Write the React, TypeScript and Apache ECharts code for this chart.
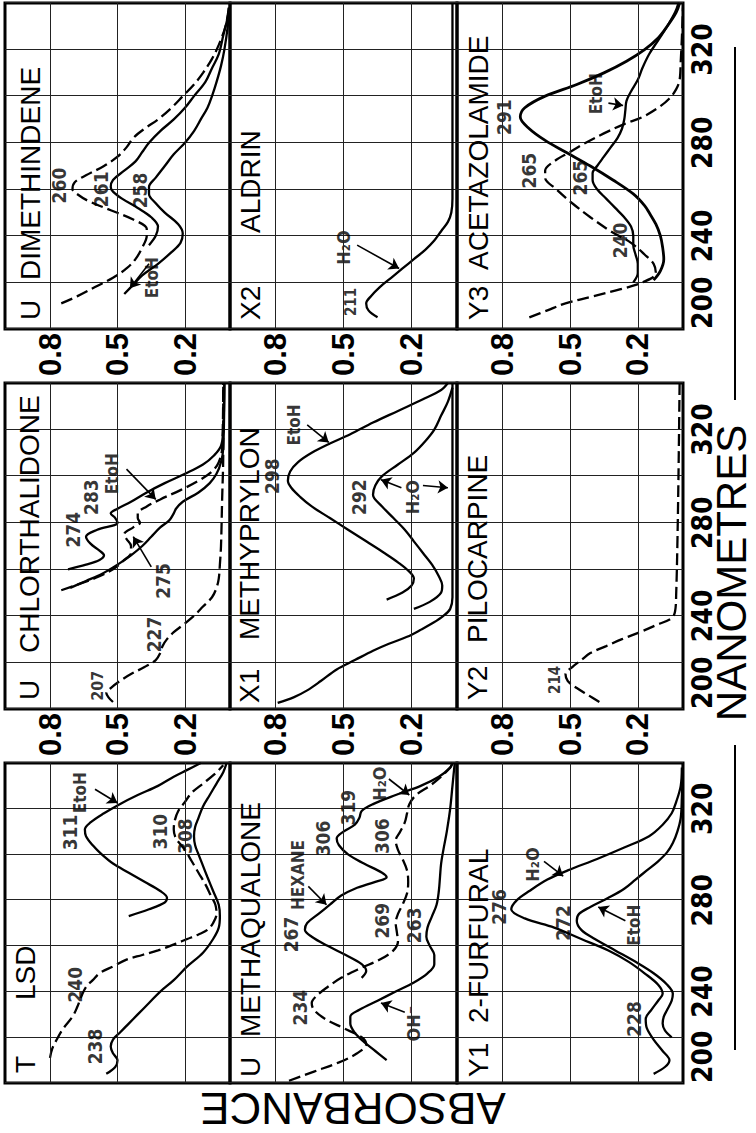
import React, { useEffect, useRef } from 'react';
import * as echarts from 'echarts';

type Pt = [number, number];

// ---- tick labels ----
const wavelengthTicks = [200, 240, 280, 320];
const absorbanceTicks = [0.2, 0.5, 0.8];

// ---- T  LSD ----
const lsdEtoh: Pt[] = [[273,0.45],[276,0.36],[279,0.29],[281,0.28],[284,0.31],[288,0.38],[292,0.45],[296,0.52],[300,0.57],[304,0.61],[308,0.64],[311,0.645],[314,0.62],[318,0.56],[322,0.49],[326,0.41],[330,0.32],[334,0.25],[337,0.19],[340,0.13]];
const lsdDashed: Pt[] = [[211,0.80],[215,0.79],[219,0.77],[224,0.74],[229,0.70],[233,0.68],[238,0.66],[242,0.64],[245,0.61],[248,0.58],[251,0.52],[254,0.46],[256,0.39],[258,0.32],[261,0.24],[263,0.19],[265,0.14],[267,0.10],[270,0.075],[274,0.06],[278,0.065],[282,0.085],[287,0.11],[292,0.14],[297,0.17],[302,0.20],[307,0.24],[311,0.25],[315,0.245],[319,0.23],[323,0.20],[327,0.17],[331,0.12],[335,0.07],[339,0.03]];
const lsdSolid: Pt[] = [[204,0.55],[207,0.51],[210,0.50],[213,0.52],[216,0.53],[219,0.52],[222,0.49],[226,0.45],[230,0.41],[235,0.36],[240,0.31],[245,0.25],[251,0.19],[257,0.12],[263,0.075],[268,0.05],[273,0.045],[278,0.05],[284,0.075],[290,0.10],[295,0.12],[300,0.14],[304,0.155],[308,0.16],[312,0.155],[316,0.14],[321,0.12],[326,0.09],[331,0.06],[336,0.03],[340,0.015]];

// ---- U  CHLORTHALIDONE ----
const chlorDashed: Pt[] = [[203,0.52],[205,0.54],[207,0.55],[209,0.53],[212,0.49],[215,0.44],[218,0.38],[221,0.33],[224,0.31],[227,0.30],[230,0.28],[233,0.25],[236,0.21],[240,0.16],[244,0.12],[248,0.08],[252,0.06],[256,0.05],[262,0.045],[270,0.04],[290,0.035],[310,0.03],[340,0.03]];
const chlorTop: Pt[] = [[260,0.72],[262,0.64],[264,0.58],[266,0.56],[268,0.58],[271,0.62],[274,0.64],[277,0.59],[280,0.50],[282,0.51],[284,0.53],[286,0.50],[289,0.44],[293,0.37],[297,0.29],[301,0.20],[305,0.12],[309,0.07],[313,0.04],[320,0.03],[340,0.025]];
const chlorMid: Pt[] = [[251,0.75],[254,0.66],[257,0.58],[260,0.52],[264,0.47],[267,0.44],[270,0.44],[273,0.46],[275,0.47],[278,0.43],[280,0.40],[282,0.41],[284,0.41],[287,0.37],[290,0.31],[294,0.22],[298,0.14],[302,0.08],[306,0.05],[312,0.035],[340,0.03]];
const chlorLow: Pt[] = [[252,0.71],[255,0.64],[258,0.57],[262,0.50],[266,0.44],[270,0.39],[274,0.35],[278,0.31],[281,0.27],[284,0.25],[286,0.24],[289,0.21],[293,0.14],[297,0.09],[301,0.06],[306,0.04],[312,0.03],[340,0.025]];

// ---- U  DIMETHINDENE ----
const dimDashed: Pt[] = [[211,0.75],[214,0.68],[218,0.60],[222,0.52],[226,0.46],[230,0.42],[235,0.39],[240,0.37],[243,0.37],[247,0.43],[251,0.53],[255,0.63],[258,0.68],[260,0.70],[263,0.69],[266,0.64],[270,0.56],[274,0.50],[278,0.46],[282,0.43],[286,0.38],[290,0.32],[295,0.26],[300,0.21],[305,0.16],[310,0.12],[316,0.08],[322,0.05],[330,0.02],[338,0.005]];
const dimMid: Pt[] = [[236,0.36],[240,0.33],[244,0.32],[248,0.35],[252,0.41],[256,0.48],[259,0.52],[261,0.53],[264,0.52],[268,0.47],[272,0.42],[276,0.39],[280,0.36],[285,0.31],[290,0.25],[295,0.20],[300,0.16],[306,0.11],[312,0.08],[318,0.05],[326,0.03],[334,0.01],[338,0.005]];
const dimEtoh: Pt[] = [[215,0.47],[219,0.43],[223,0.39],[228,0.32],[233,0.26],[237,0.22],[241,0.21],[245,0.23],[250,0.29],[254,0.33],[258,0.36],[261,0.36],[265,0.33],[270,0.29],[275,0.25],[280,0.20],[285,0.16],[290,0.13],[295,0.10],[300,0.08],[306,0.06],[313,0.04],[320,0.025],[330,0.01],[338,0.003]];

// ---- U  METHAQUALONE ----
const methaHexane: Pt[] = [[246,0.42],[249,0.40],[252,0.42],[256,0.49],[260,0.57],[264,0.64],[267,0.67],[270,0.66],[274,0.61],[278,0.56],[282,0.51],[285,0.45],[288,0.36],[290,0.31],[292,0.33],[296,0.41],[300,0.48],[304,0.52],[307,0.53],[310,0.50],[313,0.45],[316,0.43],[319,0.42],[322,0.37],[326,0.27],[330,0.16],[334,0.08],[338,0.03],[340,0.02]];
const methaWater: Pt[] = [[201,0.74],[205,0.63],[209,0.52],[213,0.44],[217,0.40],[220,0.42],[224,0.50],[228,0.58],[232,0.63],[235,0.64],[238,0.62],[242,0.57],[246,0.51],[250,0.43],[254,0.34],[258,0.28],[262,0.26],[266,0.265],[270,0.27],[274,0.26],[278,0.24],[283,0.22],[288,0.215],[293,0.22],[298,0.24],[302,0.26],[306,0.27],[310,0.25],[314,0.23],[318,0.22],[322,0.21],[326,0.18],[330,0.12],[334,0.07],[338,0.03],[340,0.02]];
const methaBase: Pt[] = [[210,0.31],[214,0.36],[218,0.41],[222,0.45],[226,0.47],[229,0.47],[232,0.43],[236,0.35],[240,0.27],[244,0.19],[248,0.13],[252,0.10],[256,0.10],[260,0.12],[264,0.135],[268,0.13],[273,0.11],[278,0.09],[284,0.08],[290,0.075],[296,0.07],[302,0.06],[310,0.045],[320,0.03],[330,0.02],[340,0.01]];

// ---- X1  METHYPRYLON ----
const methyEtoh: Pt[] = [[247,0.31],[250,0.24],[253,0.20],[256,0.19],[259,0.21],[263,0.26],[267,0.32],[272,0.40],[277,0.48],[282,0.56],[287,0.64],[291,0.69],[295,0.73],[298,0.745],[302,0.735],[306,0.70],[310,0.64],[314,0.56],[318,0.47],[323,0.37],[328,0.26],[333,0.15],[337,0.07],[340,0.04]];
const methyWater: Pt[] = [[243,0.19],[246,0.12],[250,0.07],[253,0.065],[257,0.08],[262,0.11],[267,0.15],[272,0.19],[277,0.23],[282,0.28],[287,0.33],[292,0.37],[296,0.36],[300,0.33],[305,0.26],[310,0.19],[315,0.14],[320,0.10],[326,0.07],[332,0.04],[338,0.02]];
const methyLow: Pt[] = [[202.6,0.79],[205,0.72],[208,0.66],[212,0.60],[217,0.53],[221,0.45],[225,0.37],[228,0.30],[231,0.22],[234,0.16],[237,0.105],[240,0.06],[243,0.03],[248,0.02],[270,0.02],[300,0.02],[340,0.02]];

// ---- X2  ALDRIN ----
const aldrinWater: Pt[] = [[205,0.35],[208,0.39],[211,0.40],[214,0.38],[218,0.34],[222,0.29],[226,0.24],[230,0.19],[234,0.14],[238,0.10],[242,0.07],[246,0.04],[250,0.025],[256,0.02],[270,0.02],[300,0.02],[340,0.02]];

// ---- Y1  2-FURFURAL ----
const furWater: Pt[] = [[204,0.13],[207,0.08],[210,0.06],[214,0.09],[219,0.13],[224,0.16],[228,0.165],[232,0.14],[236,0.11],[239,0.09],[243,0.11],[248,0.17],[253,0.24],[258,0.33],[263,0.45],[268,0.57],[272,0.70],[276,0.76],[280,0.735],[284,0.68],[289,0.60],[293,0.51],[298,0.38],[303,0.26],[308,0.15],[313,0.09],[318,0.05],[323,0.03],[330,0.01],[338,0.005]];
const furEtoh: Pt[] = [[220,0.05],[223,0.08],[226,0.09],[229,0.085],[232,0.07],[236,0.05],[239,0.045],[243,0.07],[248,0.13],[253,0.21],[258,0.30],[263,0.39],[267,0.45],[271,0.47],[274,0.46],[277,0.41],[281,0.33],[285,0.26],[289,0.21],[293,0.16],[297,0.11],[301,0.07],[305,0.045],[310,0.025],[316,0.01],[325,0.005],[340,0.0]];

// ---- Y2  PILOCARPINE ----
const piloDashed: Pt[] = [[203,0.37],[206,0.42],[209,0.47],[212,0.51],[215,0.52],[218,0.49],[221,0.45],[224,0.41],[227,0.34],[230,0.27],[233,0.19],[236,0.12],[239,0.05],[242,0.035],[250,0.03],[270,0.025],[300,0.02],[340,0.015]];

// ---- Y3  ACETAZOLAMIDE ----
const acetaDashed: Pt[] = [[205,0.68],[208,0.60],[211,0.52],[214,0.40],[217,0.28],[220,0.18],[224,0.12],[228,0.13],[232,0.17],[237,0.23],[242,0.32],[248,0.41],[254,0.49],[260,0.56],[265,0.61],[268,0.61],[272,0.57],[276,0.50],[280,0.43],[284,0.35],[288,0.26],[291,0.18],[295,0.11],[299,0.06],[303,0.03],[307,0.015],[315,0.01],[325,0.005],[338,0.0]];
const aceta291: Pt[] = [[221,0.13],[225,0.10],[230,0.085],[235,0.09],[240,0.10],[245,0.12],[250,0.15],[253,0.17],[258,0.22],[264,0.31],[270,0.41],[276,0.52],[281,0.61],[286,0.68],[291,0.72],[295,0.70],[300,0.61],[305,0.47],[310,0.35],[315,0.25],[320,0.17],[325,0.11],[330,0.07],[336,0.03],[340,0.015]];
const acetaEtoh: Pt[] = [[220,0.22],[224,0.20],[228,0.20],[232,0.21],[236,0.22],[240,0.22],[244,0.23],[248,0.26],[252,0.30],[256,0.34],[260,0.38],[264,0.40],[267,0.40],[270,0.38],[274,0.35],[278,0.32],[282,0.29],[286,0.27],[290,0.26],[294,0.255],[298,0.25],[302,0.23],[307,0.20],[312,0.18],[318,0.15],[324,0.11],[330,0.07],[336,0.035],[340,0.02]];

// ---- layout (original, unrotated figure) ----
const FIG_W = 1133;
const FIG_H = 756;
const COL_LEFT = [50, 424, 804];
const COL_W = [320, 326, 326];
const ROW_TOP = [5, 230, 457];
const ROW_H = [225, 227, 226];

const NARROW = '"Liberation Sans Narrow","DejaVu Sans Condensed","Liberation Sans",sans-serif';
const SANS = '"Liberation Sans","DejaVu Sans",sans-serif';

interface Curve { data: Pt[]; dashed?: boolean; width?: number }
interface Note { t: string; at: Pt; size?: number }
interface Panel {
  row: number; col: number; code: string; name: string;
  codeX: number; nameX: number; titleY: number;
  curves: Curve[]; notes: Note[]; arrows: [Pt, Pt][];
}

const panels: Panel[] = [
  {
    row: 0, col: 0, code: 'T', name: 'LSD', codeX: 60, nameX: 133, titleY: 25,
    curves: [{ data: lsdEtoh }, { data: lsdDashed, dashed: true }, { data: lsdSolid }],
    notes: [
      { t: '240', at: [243, 0.69] }, { t: '238', at: [216, 0.60] }, { t: '311', at: [309.6, 0.71] },
      { t: 'EtoH', at: [327, 0.665], size: 17 }, { t: '310', at: [310, 0.31] }, { t: '308', at: [308, 0.20] },
    ],
    arrows: [[[328.5, 0.60], [322.5, 0.50]]],
  },
  {
    row: 0, col: 1, code: 'U', name: 'CHLORTHALIDONE', codeX: 433, nameX: 480, titleY: 29,
    curves: [{ data: chlorDashed, dashed: true }, { data: chlorTop }, { data: chlorMid, dashed: true }, { data: chlorLow }],
    notes: [
      { t: '207', at: [210, 0.59], size: 16 }, { t: '227', at: [232, 0.34] }, { t: '274', at: [277, 0.70] },
      { t: '283', at: [291, 0.62] }, { t: 'EtoH', at: [301, 0.525], size: 17 }, { t: '275', at: [255, 0.30] },
    ],
    arrows: [[[303, 0.46], [290, 0.33]], [[261, 0.35], [274, 0.43]]],
  },
  {
    row: 0, col: 2, code: 'U', name: 'DIMETHINDENE', codeX: 813, nameX: 853, titleY: 30,
    curves: [{ data: dimDashed, dashed: true }, { data: dimMid }, { data: dimEtoh }],
    notes: [
      { t: '260', at: [261.6, 0.76] }, { t: '261', at: [260, 0.575] }, { t: '258', at: [259.5, 0.40] },
      { t: 'EtoH', at: [222, 0.345], size: 17 },
    ],
    arrows: [[[228, 0.36], [217.5, 0.445]]],
  },
  {
    row: 1, col: 0, code: 'U', name: 'METHAQUALONE', codeX: 56, nameX: 96, titleY: 250,
    curves: [{ data: methaHexane }, { data: methaWater, dashed: true }, { data: methaBase }],
    notes: [
      { t: '234', at: [233, 0.69] }, { t: '267', at: [265, 0.73] }, { t: 'HEXANE', at: [291, 0.70], size: 17 },
      { t: '306', at: [307, 0.59] }, { t: '319', at: [320.5, 0.48] }, { t: 'H₂O', at: [331, 0.34], size: 18 },
      { t: '306', at: [308, 0.33] }, { t: '269', at: [271, 0.33] }, { t: '263', at: [269, 0.19] },
      { t: 'OH⁻', at: [226, 0.19], size: 18 },
    ],
    arrows: [[[286, 0.655], [278, 0.575]], [[333, 0.30], [326, 0.21]], [[231, 0.23], [235, 0.335]]],
  },
  {
    row: 1, col: 1, code: 'X1', name: 'METHYPRYLON', codeX: 430, nameX: 493, titleY: 249,
    curves: [{ data: methyEtoh }, { data: methyWater }, { data: methyLow }],
    notes: [
      { t: '298', at: [300, 0.815] }, { t: '292', at: [291, 0.43] }, { t: 'EtoH', at: [322, 0.72], size: 17 },
      { t: 'H₂O', at: [291, 0.195], size: 18 },
    ],
    arrows: [[[322, 0.66], [314.5, 0.565]], [[295, 0.245], [298.5, 0.335]], [[296, 0.15], [295, 0.04]]],
  },
  {
    row: 1, col: 2, code: 'X2', name: 'ALDRIN', codeX: 813, nameX: 900, titleY: 250,
    curves: [{ data: aldrinWater }],
    notes: [{ t: '211', at: [211.6, 0.465], size: 15 }, { t: 'H₂O', at: [235, 0.50], size: 18 }],
    arrows: [[[236, 0.44], [226, 0.255]]],
  },
  {
    row: 2, col: 0, code: 'Y1', name: '2-FURFURAL', codeX: 56, nameX: 110, titleY: 478,
    curves: [{ data: furWater }, { data: furEtoh }],
    notes: [
      { t: '276', at: [277, 0.815] }, { t: 'H₂O', at: [295.6, 0.665], size: 18 }, { t: '272', at: [270, 0.53] },
      { t: 'EtoH', at: [269, 0.215], size: 17 }, { t: '228', at: [228, 0.215] },
    ],
    arrows: [[[297, 0.615], [290.5, 0.53]], [[271, 0.255], [277, 0.375]]],
  },
  {
    row: 2, col: 1, code: 'Y2', name: 'PILOCARPINE', codeX: 433, nameX: 490, titleY: 477,
    curves: [{ data: piloDashed, dashed: true }],
    notes: [{ t: '214', at: [212.5, 0.565], size: 15 }],
    arrows: [],
  },
  {
    row: 2, col: 2, code: 'Y3', name: 'ACETAZOLAMIDE', codeX: 813, nameX: 863, titleY: 478,
    curves: [{ data: acetaDashed, dashed: true }, { data: aceta291, width: 2.8 }, { data: acetaEtoh }],
    notes: [
      { t: '291', at: [291, 0.79] }, { t: '265', at: [268, 0.68] }, { t: '265', at: [265, 0.455] },
      { t: '240', at: [238, 0.28] }, { t: 'EtoH', at: [301, 0.385], size: 17 },
    ],
    arrows: [[[297, 0.33], [296, 0.265]]],
  },
];

function buildOption(): any {
  const grid: any[] = [];
  const xAxis: any[] = [];
  const yAxis: any[] = [];
  const series: any[] = [];
  const graphic: any[] = [];

  panels.forEach((p, i) => {
    grid.push({
      left: COL_LEFT[p.col], top: ROW_TOP[p.row], width: COL_W[p.col], height: ROW_H[p.row],
      show: true, borderColor: '#000', borderWidth: 3, backgroundColor: 'transparent', containLabel: false,
    });
    xAxis.push({
      type: 'value', gridIndex: i, min: 200, max: 340, interval: 20,
      axisLine: { show: false }, axisTick: { show: false },
      splitLine: { show: true, lineStyle: { color: '#222', width: 1 } },
      axisLabel: {
        show: p.row === 2,
        formatter: (v: number) => (wavelengthTicks.indexOf(Math.round(v)) >= 0 ? String(Math.round(v)) : ''),
        fontSize: 28, fontWeight: 'bold', fontFamily: NARROW, color: '#000', margin: 5, alignMinLabel: 'left',
      },
    });
    yAxis.push({
      type: 'value', gridIndex: i, min: 0, max: 1, interval: 0.1,
      axisLine: { show: false }, axisTick: { show: false }, splitLine: { show: false },
      axisLabel: {
        show: p.col > 0,
        formatter: (v: number) => (absorbanceTicks.some((t) => Math.abs(t - v) < 1e-6) ? v.toFixed(1) : ''),
        fontSize: 31, fontWeight: 'bold', fontFamily: SANS, color: '#000', margin: 4,
      },
    });
    // absorbance grid lines at the labelled values
    series.push({
      type: 'line', xAxisIndex: i, yAxisIndex: i, data: [[200, 0]], symbol: 'none',
      lineStyle: { opacity: 0 }, silent: true, z: 1,
      markLine: {
        silent: true, symbol: ['none', 'none'], label: { show: false },
        lineStyle: { color: '#222', width: 1, type: 'solid' },
        data: absorbanceTicks.map((v) => ({ yAxis: v })),
      },
    });
    p.curves.forEach((c) => {
      series.push({
        type: 'line', xAxisIndex: i, yAxisIndex: i, data: c.data, symbol: 'none', showSymbol: false,
        smooth: 0.35, silent: true, z: 3,
        lineStyle: { color: '#000', width: c.width ?? 2.3, type: c.dashed ? [12, 5] : 'solid' },
      });
    });
    series.push({
      type: 'scatter', xAxisIndex: i, yAxisIndex: i, symbolSize: 1,
      itemStyle: { color: 'rgba(0,0,0,0)' }, silent: true, z: 4,
      data: p.notes.map((n) => ({ value: n.at, name: n.t, label: { fontSize: n.size ?? 19 } })),
      label: {
        show: true, position: 'inside', formatter: '{b}', color: '#000',
        fontFamily: NARROW, fontWeight: 'bold', fontSize: 19,
      },
      markLine: {
        silent: true, symbol: ['none', 'arrow'], symbolSize: 10, label: { show: false },
        lineStyle: { color: '#000', width: 1.6, type: 'solid', curveness: 0.15 },
        data: p.arrows.map((a) => [{ coord: a[0] }, { coord: a[1] }]),
      },
    });
    graphic.push({
      type: 'text', x: p.codeX, y: p.titleY, z: 10,
      style: { text: p.code, font: `28px ${SANS}`, fill: '#000', align: 'left', verticalAlign: 'middle' },
    });
    graphic.push({
      type: 'text', x: p.nameX, y: p.titleY, z: 10,
      style: { text: p.name, font: `28px ${SANS}`, fill: '#000', align: 'left', verticalAlign: 'middle' },
    });
  });

  graphic.push({
    type: 'text', x: 25, y: 353, rotation: Math.PI / 2, z: 10,
    style: { text: 'ABSORBANCE', font: `44px ${SANS}`, fill: '#000', align: 'center', verticalAlign: 'middle' },
  });
  graphic.push({
    type: 'text', x: 560, y: 731, z: 10,
    style: { text: 'NANOMETRES', font: `42px ${SANS}`, fill: '#000', align: 'center', verticalAlign: 'middle' },
  });
  graphic.push({ type: 'line', shape: { x1: 83, y1: 735, x2: 388, y2: 735 }, style: { stroke: '#000', lineWidth: 2 } });
  graphic.push({ type: 'line', shape: { x1: 733, y1: 735, x2: 1086, y2: 735 }, style: { stroke: '#000', lineWidth: 2 } });

  return {
    animation: false,
    backgroundColor: '#fff',
    grid, xAxis, yAxis, series, graphic,
  };
}

export default function App() {
  const ref = useRef<HTMLDivElement>(null);
  useEffect(() => {
    if (!ref.current) return;
    const chart = echarts.init(ref.current, undefined, { renderer: 'svg' });
    chart.setOption(buildOption());
    return () => chart.dispose();
  }, []);
  return (
    <div style={{ position: 'absolute', left: 0, top: 0, width: 756, height: 1133, overflow: 'hidden', background: '#fff' }}>
      <div
        ref={ref}
        style={{
          position: 'absolute', left: 0, top: 0, width: FIG_W, height: FIG_H,
          transformOrigin: '0 0', transform: `translateY(${FIG_W}px) rotate(-90deg)`,
        }}
      />
    </div>
  );
}
